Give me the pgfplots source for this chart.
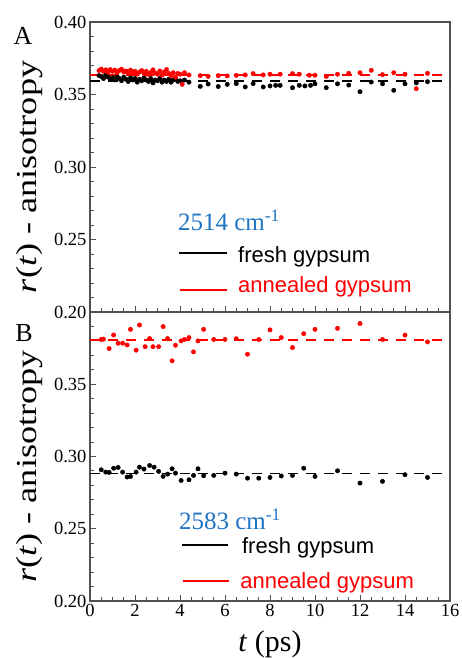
\documentclass[border=0pt]{standalone}
\usepackage{pgfplots}
\pgfplotsset{compat=1.18}
\usepackage{fontspec}
\setmainfont{Liberation Serif}
\newfontfamily\arial{Liberation Sans}
\definecolor{lblblue}{RGB}{31,117,196}
\definecolor{axgray}{RGB}{80,80,80}
\begin{document}
\begin{tikzpicture}
\useasboundingbox (0pt,0pt) rectangle (461pt,658pt);
\pgfplotsset{
  panel/.style={
    scale only axis, width=360pt,
    xmin=0, xmax=16, ymin=0.20, ymax=0.40,
    axis line style={axgray, line width=1.1pt},
    tick style={axgray, line width=0.9pt},
    major tick length=6pt, minor tick length=4pt,
    tick align=inside, tick pos=left,
    xtick={0,2,...,16}, minor x tick num=3,
    ytick={0.20,0.25,0.30,0.35,0.40}, minor y tick num=4,
    tick label style={font=\rmfamily\fontsize{18.5}{20}\selectfont},
    /pgf/number format/assume math mode=true,
    ylabel={\textit{r}(\textit{t}) - anisotropy},
    ylabel style={font=\rmfamily\fontsize{29}{32}\selectfont, at={(axis description cs:-0.167,0.466)}, anchor=center, xscale=1.25},
    clip=false,
  },
  blk/.style={only marks, mark=*, mark size=2.2pt, black, mark options={draw=black, fill=black}},
  rd/.style={only marks, mark=*, mark size=2.2pt, red, mark options={draw=red, fill=red}},
  fitb/.style={black, line width=1.7pt, dash pattern=on 10pt off 8pt},
  fitr/.style={red, line width=1.7pt, dash pattern=on 10pt off 8pt},
}
% ---------------- Panel A ----------------
\begin{axis}[panel, at={(90pt,346pt)}, anchor=south west, height=290pt,
  xticklabels={}, yticklabels={0.20,0.25,0.30,0.35,0.40}]
\addplot[blk] coordinates {
(0.4,0.3630) (0.5,0.3625) (0.6,0.3610) (0.7,0.3635) (0.8,0.3620) (0.9,0.3605)
(1.0,0.3615) (1.1,0.3600) (1.2,0.3625) (1.3,0.3610) (1.4,0.3595) (1.5,0.3620)
(1.6,0.3605) (1.7,0.3590) (1.8,0.3615) (1.9,0.3600) (2.0,0.3610) (2.1,0.3585)
(2.2,0.3605) (2.3,0.3595) (2.4,0.3615) (2.5,0.3600) (2.6,0.3590) (2.7,0.3610)
(2.8,0.3580) (2.9,0.3600) (3.0,0.3595) (3.1,0.3610) (3.2,0.3585) (3.3,0.3600)
(3.4,0.3590) (3.5,0.3605) (3.6,0.3585) (3.7,0.3600) (3.8,0.3610) (3.9,0.3590)
(4.0,0.3595) (4.2,0.3600) (4.4,0.3585)
(4.9,0.3556) (5.25,0.3572) (5.7,0.3555) (6.1,0.3570) (6.5,0.3575) (6.9,0.3552)
(7.25,0.3575) (7.7,0.3552) (8.0,0.3559) (8.25,0.3563) (8.45,0.3563) (9.0,0.3547)
(9.3,0.3563) (9.55,0.3559) (9.8,0.3563) (10.0,0.3574) (10.5,0.3547) (11.0,0.3574)
(11.5,0.3565) (12.0,0.3519) (12.5,0.3586) (13.0,0.3574) (13.5,0.3529) (14.0,0.3574)
(14.5,0.3580) (15.0,0.3588)
};
\addplot[rd] coordinates {
(0.4,0.3665) (0.5,0.3675) (0.6,0.3660) (0.7,0.3670) (0.8,0.3655) (0.9,0.3672)
(1.0,0.3660) (1.1,0.3668) (1.2,0.3650) (1.3,0.3665) (1.4,0.3675) (1.5,0.3655)
(1.6,0.3662) (1.7,0.3645) (1.8,0.3668) (1.9,0.3650) (2.0,0.3660) (2.1,0.3640)
(2.2,0.3655) (2.3,0.3665) (2.4,0.3645) (2.5,0.3660) (2.6,0.3638) (2.7,0.3652)
(2.8,0.3670) (2.9,0.3648) (3.0,0.3640) (3.1,0.3662) (3.2,0.3635) (3.3,0.3655)
(3.4,0.3672) (3.5,0.3645) (3.6,0.3630) (3.7,0.3650) (3.8,0.3620) (3.9,0.3645)
(4.0,0.3640) (4.1,0.3570) (4.2,0.3650) (4.4,0.3635)
(4.9,0.3630) (5.25,0.3625) (5.7,0.3630) (6.1,0.3628) (6.5,0.3632) (6.9,0.3635)
(7.25,0.3644) (7.7,0.3635) (8.0,0.3640) (8.45,0.3640) (9.0,0.3644) (9.3,0.3640)
(9.75,0.3633) (10.0,0.3633) (10.5,0.3625) (11.0,0.3640) (11.5,0.3646) (12.0,0.3650)
(12.5,0.3667) (13.0,0.3637) (13.5,0.3650) (14.0,0.3640) (14.5,0.3540) (15.0,0.3646)
};
\addplot[fitb] coordinates {(0,0.3595) (16,0.3595)};
\addplot[fitr] coordinates {(0,0.3633) (16,0.3633)};
\node[anchor=center, font=\fontsize{26}{28}\selectfont] at (axis description cs:-0.186,0.952) {A};
\node[anchor=base west, inner sep=0pt, text=lblblue, font=\fontsize{25}{28}\selectfont] at (axis description cs:0.244,0.280) {2514 cm\textsuperscript{-1}};
\draw[black, line width=2.5pt] (axis description cs:0.247,0.2034) -- (axis description cs:0.381,0.2034);
\node[anchor=base west, inner sep=0pt, font=\arial\fontsize{22}{24}\selectfont] at (axis description cs:0.411,0.170) {fresh gypsum};
\draw[red, line width=2.5pt] (axis description cs:0.250,0.0759) -- (axis description cs:0.381,0.0759);
\node[anchor=base west, inner sep=0pt, text=red, font=\arial\fontsize{22}{24}\selectfont] at (axis description cs:0.411,0.0655) {annealed gypsum};
\end{axis}
% ---------------- Panel B ----------------
\begin{axis}[panel, at={(90pt,57pt)}, anchor=south west, height=289pt,
  xticklabels={0,2,4,6,8,10,12,14,16},
  yticklabels={0.20,0.25,0.30,0.35,{}},
  xlabel={\textit{t} (ps)},
  xlabel style={font=\rmfamily\fontsize{30}{32}\selectfont, at={(axis description cs:0.5,-0.149)}, anchor=center}]
\addplot[blk] coordinates {
(0.5,0.2908) (0.7,0.2892) (0.85,0.2890) (1.05,0.2919) (1.25,0.2924) (1.45,0.2892)
(1.65,0.2858) (1.8,0.2862) (2.05,0.2892) (2.2,0.2926) (2.4,0.2913) (2.65,0.2938)
(2.85,0.2926) (3.05,0.2897) (3.25,0.2862) (3.45,0.2878) (3.65,0.2915) (3.8,0.2885)
(4.05,0.2834) (4.4,0.2839) (4.6,0.2869) (4.8,0.2915) (5.05,0.2867) (5.5,0.2869)
(6.0,0.2885) (6.5,0.2878) (7.0,0.2850) (7.5,0.2850) (8.0,0.2855) (8.5,0.2865)
(9.0,0.2869) (9.5,0.2919) (10.0,0.2862) (11.0,0.2901) (12.0,0.2816) (13.0,0.2828)
(14.0,0.2874) (15.0,0.2855)
};
\addplot[rd] coordinates {
(0.5,0.3810) (0.6,0.3812) (0.85,0.3747) (1.05,0.3841) (1.25,0.3784) (1.45,0.3784)
(1.65,0.3772) (1.8,0.3880) (2.05,0.3736) (2.2,0.3910) (2.45,0.3760) (2.65,0.3816)
(2.8,0.3760) (3.05,0.3760) (3.25,0.3899) (3.45,0.3816) (3.65,0.3662) (3.8,0.3770)
(4.05,0.3800) (4.2,0.3810) (4.4,0.3823) (4.6,0.3724) (4.8,0.3800) (5.05,0.3880)
(5.5,0.3810) (6.0,0.3810) (6.5,0.3815) (7.0,0.3708) (7.5,0.3810) (8.0,0.3876)
(8.5,0.3823) (9.0,0.3754) (9.5,0.3850) (10.0,0.3880) (11.0,0.3887) (12.0,0.3920)
(13.0,0.3810) (14.0,0.3840) (15.0,0.3793)
};
\addplot[fitb] coordinates {(0,0.2883) (16,0.2883)};
\addplot[fitr] coordinates {(0,0.3807) (16,0.3807)};
\node[anchor=center, font=\fontsize{26}{28}\selectfont] at (axis description cs:-0.183,0.927) {B};
\node[anchor=base west, inner sep=0pt, text=lblblue, font=\fontsize{25}{28}\selectfont] at (axis description cs:0.247,0.248) {2583 cm\textsuperscript{-1}};
\draw[black, line width=2.5pt] (axis description cs:0.256,0.194) -- (axis description cs:0.383,0.194);
\node[anchor=base west, inner sep=0pt, font=\arial\fontsize{22}{24}\selectfont] at (axis description cs:0.422,0.163) {fresh gypsum};
\draw[red, line width=2.5pt] (axis description cs:0.258,0.069) -- (axis description cs:0.386,0.069);
\node[anchor=base west, inner sep=0pt, text=red, font=\arial\fontsize{22}{24}\selectfont] at (axis description cs:0.417,0.044) {annealed gypsum};
\end{axis}
\end{tikzpicture}
\end{document}
